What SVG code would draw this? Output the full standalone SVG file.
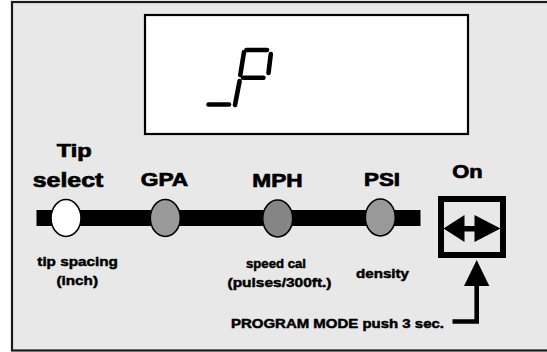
<svg xmlns="http://www.w3.org/2000/svg" width="547" height="352" viewBox="0 0 547 352">
<style>
.t{font-family:"Liberation Sans",Arial,sans-serif;font-weight:bold;fill:#000;stroke:#000;stroke-width:0.7;stroke-linejoin:round}
.big{font-size:19px}
.sm{font-size:12.5px;stroke-width:0.45}
.led{stroke:#000;stroke-width:1.6}
.seg{stroke:#000;stroke-width:4.6;stroke-linecap:round;fill:none}
</style>
<rect x="12" y="2" width="545" height="348.5" fill="#e8e8e8" stroke="#1a1a1a" stroke-width="2.2"/>
<g id="display">
<rect x="145" y="15" width="323" height="119" fill="#fff" stroke="#000" stroke-width="2.2"/>
<g id="lcd-segments">
<line class="seg" x1="208.5" y1="104.5" x2="229" y2="104.5"/>
<line class="seg" x1="239.6" y1="81" x2="235" y2="105"/>
<line class="seg" x1="244" y1="52" x2="240.3" y2="75"/>
<line class="seg" x1="246.5" y1="50" x2="267" y2="50"/>
<line class="seg" x1="270.8" y1="54" x2="268.5" y2="73"/>
<line class="seg" x1="243" y1="77.8" x2="263.5" y2="77.8"/>
</g>
</g>
<g id="panel-bar">
<rect x="36.5" y="210" width="384" height="16" fill="#000"/>
</g>
<g id="tip-select">
<ellipse class="led" cx="66" cy="218" rx="15" ry="18.5" fill="#fff"/>
<text class="t big" x="56.7" y="156.7" textLength="35" lengthAdjust="spacingAndGlyphs">Tip</text>
<text class="t" style="font-size:20px" x="32.7" y="186.7" textLength="70.6" lengthAdjust="spacingAndGlyphs">select</text>
<text class="t sm" x="37.3" y="266" textLength="80.6" lengthAdjust="spacingAndGlyphs">tip spacing</text>
<text class="t sm" x="56.5" y="284.5" textLength="41.5" lengthAdjust="spacingAndGlyphs">(inch)</text>
</g>
<g id="gpa">
<ellipse class="led" cx="165.3" cy="218" rx="15" ry="18.5" fill="#999"/>
<text class="t" style="font-size:18px" x="140.7" y="185.7" textLength="47.6" lengthAdjust="spacingAndGlyphs">GPA</text>
</g>
<g id="mph">
<ellipse class="led" cx="277.7" cy="218.5" rx="15" ry="18.5" fill="#858585"/>
<text class="t big" x="252.3" y="187.3" textLength="50.4" lengthAdjust="spacingAndGlyphs">MPH</text>
<text class="t sm" x="246" y="268" textLength="60" lengthAdjust="spacingAndGlyphs">speed cal</text>
<text class="t sm" x="227.5" y="287" textLength="104" lengthAdjust="spacingAndGlyphs">(pulses/300ft.)</text>
</g>
<g id="psi">
<ellipse class="led" cx="380.3" cy="217.5" rx="15" ry="18.5" fill="#999"/>
<text class="t" style="font-size:18px" x="364" y="185.7" textLength="36" lengthAdjust="spacingAndGlyphs">PSI</text>
<text class="t sm" x="356" y="277.5" textLength="53" lengthAdjust="spacingAndGlyphs">density</text>
</g>
<g id="on-button">
<text class="t" style="font-size:18px" x="452.3" y="177.7" textLength="30.4" lengthAdjust="spacingAndGlyphs">On</text>
<rect x="441" y="199" width="62" height="56" fill="none" stroke="#000" stroke-width="6"/>
<polygon points="443.5,228.5 464.5,215 464.5,226 474.5,226 474.5,215 500.5,228.5 474.5,242 474.5,231.5 464.5,231.5 464.5,242" fill="#000"/>
</g>
<g id="program-mode">
<text class="t" style="font-size:13px;stroke-width:0.5" x="231" y="328.3" textLength="213" lengthAdjust="spacingAndGlyphs">PROGRAM MODE push 3 sec.</text>
</g>
<g id="connectors">
<polyline points="452.5,321.5 476.7,321.5 476.7,284" fill="none" stroke="#000" stroke-width="4.6"/>
<polygon points="476.7,260 464,286 489.3,286" fill="#000"/>
</g>
</svg>
